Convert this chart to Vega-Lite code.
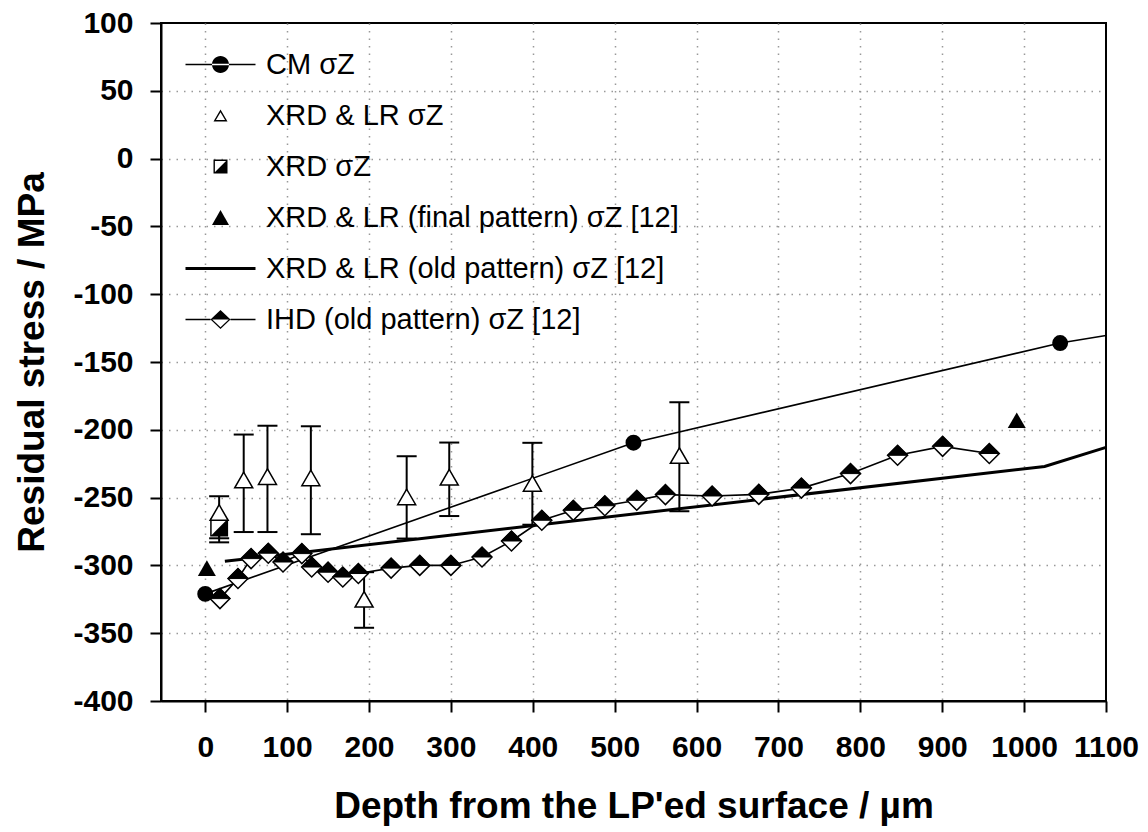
{
  "$schema": "https://vega.github.io/schema/vega-lite/v6.json",
  "autosize": {"type": "none"},
  "padding": {"left": 161, "top": 23, "right": 42, "bottom": 131},
  "width": 945,
  "height": 678,
  "background": "white",
  "datasets": {
    "cm": [
      {"depth": 0, "stress": -321},
      {"depth": 523, "stress": -209.5},
      {"depth": 1044, "stress": -136}
    ],
    "cm_curve": [
      {"depth": 0, "stress": -321},
      {"depth": 523, "stress": -209.5},
      {"depth": 1044, "stress": -136},
      {"depth": 1100, "stress": -130.5}
    ],
    "xrdlr": [
      {"depth": 17, "stress": -261, "lo": -280, "hi": -249},
      {"depth": 47, "stress": -237, "lo": -275.4, "hi": -203.5},
      {"depth": 76, "stress": -234.5, "lo": -275.4, "hi": -197},
      {"depth": 129, "stress": -235.5, "lo": -277, "hi": -197.4},
      {"depth": 194, "stress": -325, "lo": -346, "hi": -305},
      {"depth": 246, "stress": -249.5, "lo": -280.2, "hi": -219.5},
      {"depth": 298, "stress": -235, "lo": -263.6, "hi": -209.4},
      {"depth": 399.5, "stress": -239.5, "lo": -270, "hi": -209.6},
      {"depth": 579, "stress": -219, "lo": -260, "hi": -179.7}
    ],
    "xrd": [
      {"depth": 17, "stress": -272, "lo": -283, "hi": -261}
    ],
    "final": [
      {"depth": 2, "stress": -302},
      {"depth": 991, "stress": -193}
    ],
    "old": [
      {"depth": 24, "stress": -297},
      {"depth": 1025, "stress": -227},
      {"depth": 1100, "stress": -213}
    ],
    "ihd": [
      {"depth": 18, "stress": -324.5},
      {"depth": 40, "stress": -309.7},
      {"depth": 56, "stress": -295},
      {"depth": 77, "stress": -291},
      {"depth": 95, "stress": -297.5},
      {"depth": 118, "stress": -291.3},
      {"depth": 130, "stress": -301.2},
      {"depth": 150, "stress": -305},
      {"depth": 168, "stress": -308.6},
      {"depth": 187, "stress": -306},
      {"depth": 227, "stress": -302},
      {"depth": 262, "stress": -300},
      {"depth": 300, "stress": -300},
      {"depth": 338, "stress": -293.8},
      {"depth": 374, "stress": -282},
      {"depth": 411, "stress": -266.7},
      {"depth": 449.5, "stress": -259.4},
      {"depth": 488, "stress": -256},
      {"depth": 527, "stress": -252},
      {"depth": 562, "stress": -247.8},
      {"depth": 619, "stress": -248.8},
      {"depth": 676, "stress": -247.6},
      {"depth": 728, "stress": -243},
      {"depth": 788, "stress": -232.3},
      {"depth": 845.5, "stress": -218.8},
      {"depth": 900.5, "stress": -212.2},
      {"depth": 957.5, "stress": -217.5}
    ],
    "legend": [
      {"series": "CM σZ"},
      {"series": "XRD & LR σZ"},
      {"series": "XRD σZ"},
      {"series": "XRD & LR (final pattern) σZ [12]"},
      {"series": "XRD & LR (old pattern) σZ [12]"},
      {"series": "IHD (old pattern) σZ [12]"}
    ]
  },
  "encoding": {
    "x": {
      "field": "depth", "type": "quantitative",
      "scale": {"domain": [-54, 1100], "nice": false, "zero": false},
      "axis": {
        "title": "Depth from the LP'ed surface / µm",
        "values": [0, 100, 200, 300, 400, 500, 600, 700, 800, 900, 1000, 1100],
        "labelExpr": "'' + datum.value",
        "gridOpacity": {"condition": {"test": "datum.value >= 1100", "value": 0}, "value": 1},
        "titlePadding": 26
      }
    },
    "y": {
      "field": "stress", "type": "quantitative",
      "scale": {"domain": [-400, 100], "nice": false, "zero": false},
      "axis": {
        "title": "Residual stress / MPa",
        "values": [-400, -350, -300, -250, -200, -150, -100, -50, 0, 50, 100],
        "labelExpr": "'' + datum.value",
        "gridOpacity": {"condition": {"test": "datum.value >= 100 || datum.value <= -400", "value": 0}, "value": 1},
        "titlePadding": 21
      }
    }
  },
  "layer": [
    {
      "data": {"name": "cm_curve"},
      "mark": {"type": "line", "color": "black", "strokeWidth": 1.6}
    },
    {
      "data": {"name": "old"},
      "mark": {"type": "line", "color": "black", "strokeWidth": 3}
    },
    {
      "data": {"name": "ihd"},
      "mark": {"type": "line", "color": "black", "strokeWidth": 1.6}
    },
    {
      "data": {"name": "xrdlr"},
      "mark": {"type": "rule", "color": "black", "strokeWidth": 2},
      "encoding": {
        "y": {"field": "lo", "type": "quantitative", "title": "Residual stress / MPa"},
        "y2": {"field": "hi"}
      }
    },
    {
      "data": {"name": "xrdlr"},
      "mark": {"type": "tick", "orient": "horizontal", "color": "black", "size": 20, "thickness": 2, "opacity": 1},
      "encoding": {
        "y": {"field": "lo", "type": "quantitative", "title": "Residual stress / MPa"}
      }
    },
    {
      "data": {"name": "xrdlr"},
      "mark": {"type": "tick", "orient": "horizontal", "color": "black", "size": 20, "thickness": 2, "opacity": 1},
      "encoding": {
        "y": {"field": "hi", "type": "quantitative", "title": "Residual stress / MPa"}
      }
    },
    {
      "data": {"name": "xrd"},
      "mark": {"type": "rule", "color": "black", "strokeWidth": 2},
      "encoding": {
        "y": {"field": "lo", "type": "quantitative", "title": "Residual stress / MPa"},
        "y2": {"field": "hi"}
      }
    },
    {
      "data": {"name": "xrd"},
      "mark": {"type": "tick", "orient": "horizontal", "color": "black", "size": 20, "thickness": 2, "opacity": 1},
      "encoding": {
        "y": {"field": "lo", "type": "quantitative", "title": "Residual stress / MPa"}
      }
    },
    {
      "data": {"name": "xrd"},
      "mark": {"type": "point", "shape": "square", "filled": true, "fill": "white", "stroke": "black", "strokeWidth": 1.5, "size": 270, "opacity": 1}
    },
    {
      "data": {"name": "xrd"},
      "mark": {"type": "point", "shape": "M1,-1L1,1L-1,1Z", "filled": true, "fill": "black", "strokeWidth": 0, "size": 270, "opacity": 1}
    },
    {
      "data": {"name": "xrdlr"},
      "mark": {"type": "point", "shape": "triangle-up", "filled": true, "fill": "white", "stroke": "black", "strokeWidth": 1.5, "size": 324, "opacity": 1}
    },
    {
      "data": {"name": "ihd"},
      "mark": {"type": "point", "shape": "M-1,0L0,-1L1,0L0,1Z", "filled": true, "fill": "white", "stroke": "black", "strokeWidth": 1.5, "size": 400, "opacity": 1}
    },
    {
      "data": {"name": "ihd"},
      "mark": {"type": "point", "shape": "M-1,0L0,-1L1,0Z", "filled": true, "fill": "black", "stroke": "black", "strokeWidth": 1, "size": 400, "opacity": 1}
    },
    {
      "data": {"name": "cm"},
      "mark": {"type": "point", "shape": "circle", "filled": true, "color": "black", "size": 254, "opacity": 1}
    },
    {
      "data": {"name": "final"},
      "mark": {"type": "point", "shape": "triangle-up", "filled": true, "color": "black", "size": 324, "opacity": 1}
    },
    {
      "data": {"name": "legend"},
      "mark": {"type": "point", "filled": true, "color": "black", "opacity": 0},
      "encoding": {
        "x": {"value": 0},
        "y": {"value": 0},
        "shape": {
          "field": "series", "type": "nominal",
          "scale": {
            "domain": ["CM σZ", "XRD & LR σZ", "XRD σZ", "XRD & LR (final pattern) σZ [12]", "XRD & LR (old pattern) σZ [12]", "IHD (old pattern) σZ [12]"],
            "range": [
              "M-3.5,-0.08H3.5V0.08H-3.5ZM-0.85,0A0.85,0.85,0,1,0,0.85,0A0.85,0.85,0,1,0,-0.85,0Z",
              "M0,-0.6L-0.7,0.6L0.7,0.6ZM0,-0.322L0.456,0.46L-0.456,0.46Z",
              "M-0.7,-0.7H0.7V0.7H-0.7ZM-0.56,-0.56V0.56H0.56V-0.56ZM0.7,-0.7L0.7,0.7L-0.7,0.7Z",
              "M0,-0.74L-0.85,0.74L0.85,0.74Z",
              "M-3.5,-0.15H3.5V0.15H-3.5Z",
              "M-3.5,-0.08H-1V0.08H-3.5ZM1,-0.08H3.5V0.08H1ZM-1,0L0,-0.95L1,0L0,0.95ZM-0.82,0L0,0.78L0.82,0L0,-0.78ZM-1,0L0,-0.95L1,0Z"
            ]
          },
          "legend": {
            "title": null,
            "orient": "none",
            "legendX": 45,
            "legendY": 27,
            "padding": 0,
            "symbolSize": 400,
            "symbolFillColor": "black",
            "symbolStrokeColor": "transparent",
            "symbolStrokeWidth": 0,
            "symbolOpacity": 1,
            "labelFont": "Liberation Sans",
            "labelFontSize": 29,
            "labelColor": "black",
            "labelOffset": 31,
            "rowPadding": 21,
            "labelLimit": 700
          }
        }
      }
    }
  ],
  "config": {
    "view": {"stroke": "black", "strokeWidth": 2},
    "font": "Liberation Sans",
    "axis": {
      "domainColor": "black",
      "domainWidth": 2,
      "tickColor": "black",
      "tickWidth": 2,
      "tickSize": 11,
      "labelFont": "Liberation Sans",
      "labelFontSize": 30,
      "labelFontWeight": "bold",
      "labelColor": "black",
      "labelOverlap": false,
      "labelFlush": false,
      "titleFont": "Liberation Sans",
      "titleFontSize": 37,
      "titleFontWeight": "bold",
      "titleColor": "black",
      "grid": true,
      "gridColor": "#999999",
      "gridWidth": 1.5,
      "gridDash": [1.5, 6]
    },
    "axisX": {"labelPadding": 20},
    "axisY": {"labelPadding": 17}
  }
}
